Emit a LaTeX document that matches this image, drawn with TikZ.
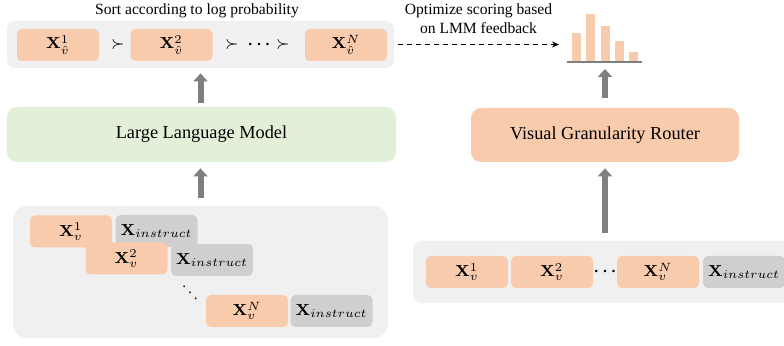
\documentclass[tikz,border=0pt]{standalone}
\usepackage[no-math]{fontspec}
\setmainfont{Liberation Serif}
\usetikzlibrary{arrows.meta}
\definecolor{peach}{HTML}{F8CBAD}
\definecolor{tokgray}{HTML}{D0CECE}
\definecolor{panel}{HTML}{F0F0F0}
\definecolor{llmgreen}{HTML}{E2F0D9}
\definecolor{arrowgray}{HTML}{7F7F7F}

\begin{document}
\begin{tikzpicture}[x=0.5pt,y=-0.5pt,
  panelbox/.style={fill=panel, draw=none, rounded corners=4pt, inner sep=0pt},
  vtok/.style={fill=peach, draw=none, rounded corners=2.5pt, minimum width=41pt,
    minimum height=16pt, inner sep=0pt, font=\fontsize{8.2}{10}\selectfont},
  itok/.style={vtok, fill=tokgray},
  sym/.style={inner sep=0pt, font=\fontsize{7.6}{9}\selectfont},
  boldsym/.style={inner sep=0pt, font=\fontsize{7.6}{9}\selectfont\boldmath},
  bigbox/.style={draw=none, rounded corners=5pt, inner sep=0pt,
    font=\fontsize{9.15}{11}\selectfont},
  captext/.style={inner sep=0pt, align=center, font=\fontsize{7.8}{9.3}\selectfont},
  fatarrow/.style={draw=arrowgray, line width=3pt,
    -{Triangle[width=7pt,length=4pt]}},
  bar/.style={fill=peach, draw=none}
]
\useasboundingbox (0,0) rectangle (784,346);
\clip (0,0) rectangle (784,346);

% ---- left column: sorted candidates ----
\node[panelbox, minimum width=193.5pt, minimum height=23.5pt] (sorted) at (200.5,44.5) {};
\node[captext] (sortcap) at (197,11) {Sort according to log probability};
\node[vtok] (s1) at (58,45) {$\mathbf{X}_{\hat v}^{1}$};
\node[sym] (p1) at (118,45) {$\succ$};
\node[vtok] (s2) at (171.5,45) {$\mathbf{X}_{\hat v}^{2}$};
\node[sym] (p2) at (232,45) {$\succ$};
\node[boldsym] (sdots) at (259,45) {$\cdots$};
\node[sym] (p3) at (283,45) {$\succ$};
\node[vtok] (sN) at (346,45) {$\mathbf{X}_{\hat v}^{N}$};

% ---- language model ----
\node[bigbox, fill=llmgreen, minimum width=194.5pt, minimum height=27.5pt] (llm) at (201.5,134.5) {Large Language Model};

% ---- left input: one sequence per granularity ----
\node[panelbox, rounded corners=7pt, minimum width=187.5pt, minimum height=66pt] (inL) at (200.5,272) {};
\node[vtok] (a1) at (71,231.5) {$\mathbf{X}_{v}^{1}$};
\node[itok] (b1) at (156.5,231) {$\mathbf{X}_{instruct}$};
\node[vtok] (a2) at (126.5,258.5) {$\mathbf{X}_{v}^{2}$};
\node[itok] (b2) at (212,260) {$\mathbf{X}_{instruct}$};
\node[sym] (vd) at (190,287) {$\ddots$};
\node[vtok] (aN) at (247,311) {$\mathbf{X}_{v}^{N}$};
\node[itok] (bN) at (331.5,311) {$\mathbf{X}_{instruct}$};

\draw[fatarrow, shorten <=4pt, shorten >=3pt] (inL.north) -- (inL.north |- llm.south);
\draw[fatarrow, shorten <=2pt, shorten >=2.5pt] (llm.north -| inL.north) -- (inL.north |- sorted.south);

% ---- right column: router ----
\node[bigbox, fill=peach, minimum width=134pt, minimum height=27pt] (vgr) at (605,135) {Visual Granularity Router};

\node[panelbox, minimum width=193.5pt, minimum height=31pt] (inR) at (606.5,272) {};
\node[vtok] (c1) at (467,272) {$\mathbf{X}_{v}^{1}$};
\node[vtok] (c2) at (552,272) {$\mathbf{X}_{v}^{2}$};
\node[boldsym] (cdots) at (605,272) {$\cdots$};
\node[vtok] (cN) at (658,272) {$\mathbf{X}_{v}^{N}$};
\node[itok] (cI) at (744,272) {$\mathbf{X}_{instruct}$};

% ---- score histogram ----
\fill[bar] (572,33) rectangle (581,62);
\fill[bar] (586,14) rectangle (595,62);
\fill[bar] (601,26) rectangle (610,62);
\fill[bar] (615,41) rectangle (624,62);
\fill[bar] (629,52) rectangle (638,62);
\coordinate (base) at (605,62);
\coordinate (chartin) at (559,44.5);
\draw[arrowgray, line width=0.8pt] (567,62) -- (642,62);

\draw[fatarrow, shorten <=5pt, shorten >=3.5pt] (vgr.north) -- (base);
\draw[fatarrow, shorten <=4pt, shorten >=3pt] (vgr.south |- inR.north) -- (vgr.south);

% ---- feedback ----
\node[captext] (optcap) at (478.5,18.5) {Optimize scoring based\\on LMM feedback};
\draw[black, line width=0.6pt, dash pattern=on 2.5pt off 2pt, shorten <=2pt,
  -{Stealth[length=3.5pt,width=3pt]}] (sorted.east) -- (chartin);
\end{tikzpicture}
\end{document}
